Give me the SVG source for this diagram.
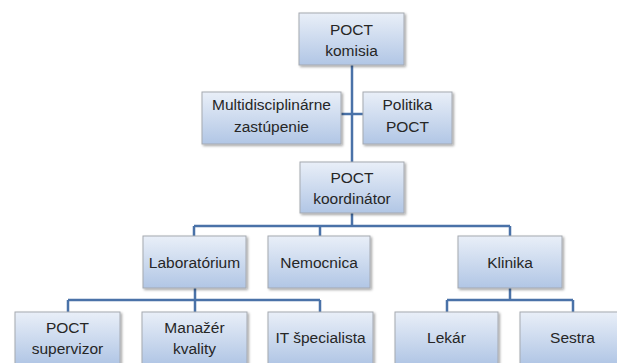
<svg xmlns="http://www.w3.org/2000/svg" width="617" height="363" viewBox="0 0 617 363">
<defs>
<linearGradient id="g" x1="0" y1="0" x2="0" y2="1">
<stop offset="0" stop-color="#e9eff8"/>
<stop offset="1" stop-color="#b1c6e5"/>
</linearGradient>
<filter id="sh" x="-10%" y="-10%" width="130%" height="130%">
<feDropShadow dx="1.5" dy="1.5" stdDeviation="1.2" flood-color="#000" flood-opacity="0.35"/>
</filter>
</defs>
<style>
.b{fill:url(#g);stroke:#a5a9b0;stroke-width:1;filter:url(#sh)}
.t{font-family:"Liberation Sans",Arial,sans-serif;font-size:15.5px;fill:#262626;text-anchor:middle}
.c{fill:none;stroke:#4a72a8;stroke-width:2.5}
</style>
<rect width="617" height="363" fill="#fff"/>
<g id="connectors">
<path class="c" d="M352,65 V162"/>
<path class="c" d="M341,114 H363"/>
<path class="c" d="M352,213 V226 M194,226 H510 M194,226 V236 M320,226 V236 M510,226 V236"/>
<path class="c" d="M195,288 V300 M68,300 H320 M68,300 V312 M195,300 V312 M320,300 V312"/>
<path class="c" d="M510,288 V300 M447,300 H573 M447,300 V312 M573,300 V312"/>
</g>
<g id="komisia"><rect class="b" x="299" y="13" width="105" height="52"/><text class="t" x="351.5" y="35">POCT</text><text class="t" x="351.5" y="56">komisia</text></g>
<g id="multi"><rect class="b" x="202" y="92" width="139" height="52"/><text class="t" x="271.5" y="110">Multidisciplinárne</text><text class="t" x="271.5" y="132">zastúpenie</text></g>
<g id="politika"><rect class="b" x="363" y="92" width="89" height="52"/><text class="t" x="407.5" y="110">Politika</text><text class="t" x="407.5" y="132">POCT</text></g>
<g id="koordinator"><rect class="b" x="300" y="162" width="104" height="51"/><text class="t" x="352" y="183">POCT</text><text class="t" x="352" y="204">koordinátor</text></g>
<g id="laboratorium"><rect class="b" x="143" y="236" width="103" height="52"/><text class="t" x="194.5" y="268">Laboratórium</text></g>
<g id="nemocnica"><rect class="b" x="268" y="236" width="102" height="52"/><text class="t" x="319" y="268">Nemocnica</text></g>
<g id="klinika"><rect class="b" x="458" y="236" width="104" height="52"/><text class="t" x="510" y="268">Klinika</text></g>
<g id="supervizor"><rect class="b" x="15" y="312" width="105" height="52"/><text class="t" x="67.5" y="333">POCT</text><text class="t" x="67.5" y="354">supervizor</text></g>
<g id="manazer"><rect class="b" x="142" y="312" width="105" height="52"/><text class="t" x="194.5" y="333">Manažér</text><text class="t" x="194.5" y="354">kvality</text></g>
<g id="it"><rect class="b" x="268" y="312" width="105" height="52"/><text class="t" x="320.5" y="343">IT špecialista</text></g>
<g id="lekar"><rect class="b" x="395" y="312" width="103" height="52"/><text class="t" x="446.5" y="343">Lekár</text></g>
<g id="sestra"><rect class="b" x="520" y="312" width="105" height="52"/><text class="t" x="572.5" y="343">Sestra</text></g>
</svg>
